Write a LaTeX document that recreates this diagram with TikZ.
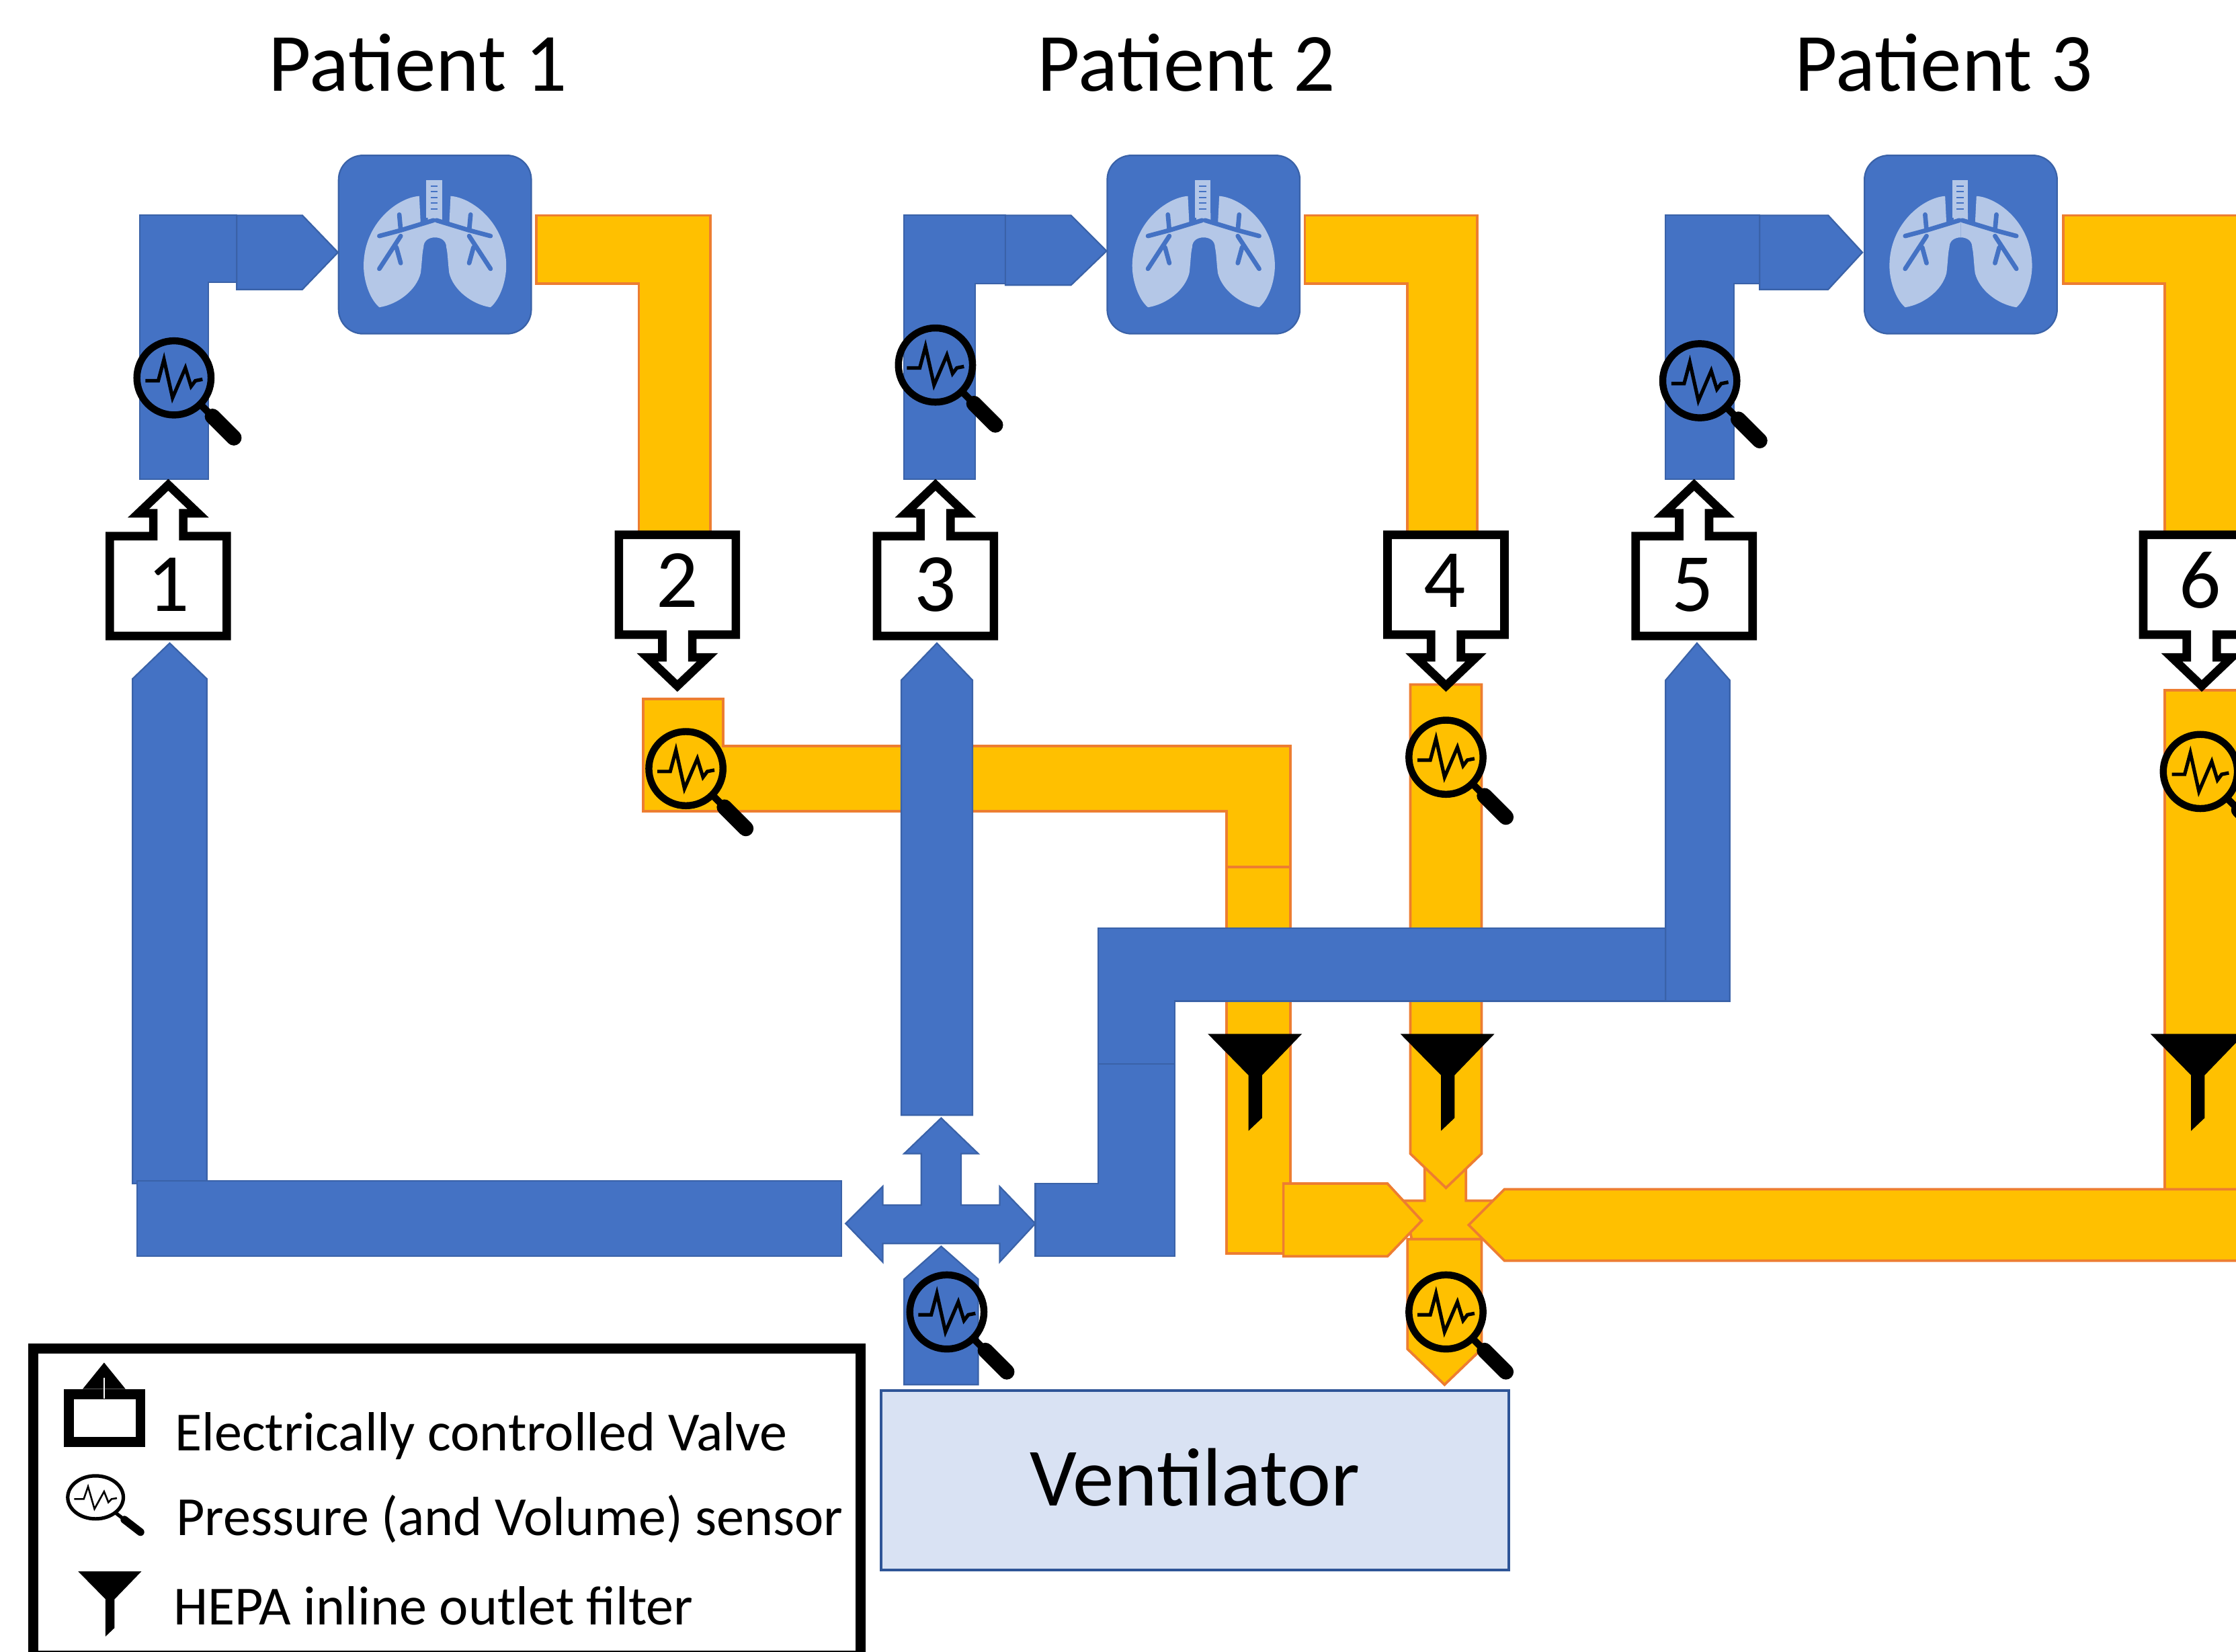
\documentclass[tikz,border=0pt]{standalone}
\usepackage{fontspec}
\setmainfont{Carlito}
\usepackage{xcolor}
\definecolor{pipeblue}{HTML}{4472C4}
\definecolor{pipeblueline}{HTML}{3A62A8}
\definecolor{pipeorange}{HTML}{FFC000}
\definecolor{pipeorangeline}{HTML}{ED7D31}
\definecolor{lunglight}{HTML}{B4C7E7}
\definecolor{ventfill}{HTML}{D9E2F3}
\definecolor{ventline}{HTML}{2F5597}

\begin{document}
\begin{tikzpicture}[x=0.01cm,y=-0.01cm]
\tikzstyle{bluepipe} =[fill=pipeblue,draw=pipeblueline,line width=0.3pt]
\tikzstyle{orangepipe} =[fill=pipeorange,draw=pipeorangeline,line width=0.5pt]
\tikzstyle{title} =[font=\fontsize{16.5}{19}\selectfont]
\tikzstyle{legendtext} =[font=\fontsize{11}{13}\selectfont,anchor=west,inner sep=0pt]
\tikzstyle{lungbox} =[rounded corners=0.17cm,fill=pipeblue,draw=pipeblueline,line width=0.3pt,minimum width=1.35cm,minimum height=1.25cm,inner sep=0pt]
\tikzset{pics/valve/.style={code={
  \draw[fill=white,line width=1.7pt] (-41,35) -- (41,35) -- (41,-35) -- (10.5,-35) -- (10.5,-51) -- (21,-51) -- (0,-71) -- (-21,-51) -- (-10.5,-51) -- (-10.5,-35) -- (-41,-35) -- cycle;
}}}
\tikzset{pics/sensor/.style={code={
  \draw[line width=#1] (0,0) circle[radius=26];
  \draw[line width=#1] (18,18) -- (27,27);
  \draw[line width=2.2*#1,line cap=round] (27,27) -- (42,42);
  \draw[line width=0.5*#1] (-20,2) -- (-11,2) -- (-7,-13) -- (-1,14) -- (8,-7) -- (12,6) -- (15,2) -- (20,1);
}}}
\tikzset{pics/filter/.style={code={
  \fill (-33,0) -- (33,0) -- (5,29) -- (5,59) -- (-4.5,68) -- (-4.5,29) -- cycle;
}}}
\tikzset{pics/lungs/.style={code={
  \foreach \s in {1,-1}{
    \fill[lunglight,xscale=\s] (-11,-34) .. controls (-26,-33) and (-50,-15) .. (-50,15) .. controls (-50,25) and (-46,38) .. (-39,44) .. controls (-26,42) and (-13,32) .. (-10,20) .. controls (-9,12) and (-9,6) .. (-8,2) .. controls (-8,-3) and (-4,-5) .. (0,-5) -- (0,-22) -- (-5,-22) -- (-5,-15) -- (-10,-14) -- cycle;
    \draw[pipeblue,xscale=\s,line width=0.9pt,line cap=round,line join=round] (-1,-17) -- (-24,-10) -- (-39,-6) (-24,-10) -- (-25,-21) (-24,-6) -- (-39,17) (-27,2) -- (-24,13);
  }
  \fill[lunglight] (-6,-45) rectangle (5,-19);
  \foreach \ry in {-41,-37,-33,-29,-25}{
    \draw[pipeblue,line width=0.3pt] (-3,\ry) -- (2,\ry);
  }
}}}

\clip (0,0) rectangle (1568,1158);

\node[title] (patient1) at (293,44) {Patient 1};
\node[title] (patient2) at (832,44) {Patient 2};
\node[title] (patient3) at (1363,44) {Patient 3};

\node[lungbox] (lung1) at (305,171.5) {};
\node[lungbox] (lung2) at (844,171.5) {};
\node[lungbox] (lung3) at (1375,171.5) {};
\pic at (lung1) {lungs};
\pic at (lung2) {lungs};
\pic at (lung3) {lungs};

\draw[bluepipe] (98,336) -- (98,151) -- (166,151) -- (166,198) -- (146,198) -- (146,336) -- cycle;
\draw[bluepipe] (166,151) -- (212,151) -- (237,177) -- (212,203) -- (166,203) -- cycle;
\draw[bluepipe] (634,336) -- (634,151) -- (705,151) -- (705,199) -- (684,199) -- (684,336) -- cycle;
\draw[bluepipe] (705,151) -- (751,151) -- (776,176) -- (751,200) -- (705,200) -- cycle;
\draw[bluepipe] (1168,336) -- (1168,151) -- (1234,151) -- (1234,199) -- (1216,199) -- (1216,336) -- cycle;
\draw[bluepipe] (1234,151) -- (1282,151) -- (1306,177) -- (1282,203) -- (1234,203) -- cycle;

\draw[orangepipe] (376,151) -- (498,151) -- (498,380) -- (448,380) -- (448,199) -- (376,199) -- cycle;
\draw[orangepipe] (915,151) -- (1036,151) -- (1036,380) -- (987,380) -- (987,199) -- (915,199) -- cycle;
\draw[orangepipe] (1447,151) -- (1580,151) -- (1580,380) -- (1518,380) -- (1518,199) -- (1447,199) -- cycle;

\draw[orangepipe] (860,608) rectangle (905,879);
\draw[orangepipe] (451,490) -- (507,490) -- (507,523) -- (905,523) -- (905,608) -- (860,608) -- (860,569) -- (451,569) -- cycle;
\draw[orangepipe] (984,842) -- (999,842) -- (999,816) -- (1028,816) -- (1028,842) -- (1046,842) -- (1040,869) -- (990,869) -- cycle;
\draw[orangepipe] (989,480) -- (1039,480) -- (1039,809) -- (1014,833) -- (989,809) -- cycle;
\draw[orangepipe] (987,869) -- (1039,869) -- (1039,946) -- (1013,971) -- (987,946) -- cycle;
\draw[orangepipe] (900,830) -- (973,830) -- (997,856) -- (973,881) -- (900,881) -- cycle;
\draw[orangepipe] (1518,484) -- (1580,484) -- (1580,834) -- (1518,834) -- cycle;
\draw[orangepipe] (1030,859) -- (1055,834) -- (1580,834) -- (1580,884) -- (1055,884) -- cycle;

\draw[bluepipe] (93,830) -- (93,476) -- (119,451) -- (145,476) -- (145,830) -- cycle;
\draw[bluepipe] (96,828) rectangle (590,881);
\draw[bluepipe] (632,782) -- (632,477) -- (657,451) -- (682,477) -- (682,782) -- cycle;
\draw[bluepipe] (660,784) -- (686,809) -- (674,809) -- (674,845) -- (701,845) -- (701,832) -- (726,858) -- (701,885) -- (701,872) -- (619,872) -- (619,885) -- (593,858) -- (619,832) -- (619,845) -- (646,845) -- (646,809) -- (634,809) -- cycle;
\draw[bluepipe] (634,971) -- (634,897) -- (660,874) -- (686,897) -- (686,971) -- cycle;
\draw[bluepipe] (726,830) -- (770,830) -- (770,746) -- (824,746) -- (824,881) -- (726,881) -- cycle;
\draw[bluepipe] (770,746) -- (770,651) -- (1213,651) -- (1213,702) -- (824,702) -- (824,746) -- cycle;
\draw[bluepipe] (1168,702) -- (1168,477) -- (1190,451) -- (1213,477) -- (1213,702) -- cycle;

\pic at (118,411) {valve};
\pic[yscale=-1] at (475,410) {valve};
\pic at (656,411) {valve};
\pic[yscale=-1] at (1014,410) {valve};
\pic at (1188,411) {valve};
\pic[yscale=-1] at (1544,410) {valve};
\node[title,inner sep=0pt] (num1) at (118,410) {1};
\node[title,inner sep=0pt] (num2) at (475,407) {2};
\node[title,inner sep=0pt] (num3) at (656,410) {3};
\node[title,inner sep=0pt] (num4) at (1013,407) {4};
\node[title,inner sep=0pt] (num5) at (1187,410) {5};
\node[title,inner sep=0pt] (num6) at (1543,407) {6};

\pic at (122,265) {sensor=1.4pt};
\pic at (481,539) {sensor=1.4pt};
\pic at (656,256) {sensor=1.4pt};
\pic at (1014,531) {sensor=1.4pt};
\pic at (1192,267) {sensor=1.4pt};
\pic at (1543,541) {sensor=1.4pt};
\pic at (664,920) {sensor=1.4pt};
\pic at (1014,920) {sensor=1.4pt};

\pic at (880,725) {filter};
\pic at (1015,725) {filter};
\pic at (1541,725) {filter};

\node[fill=ventfill,draw=ventline,line width=0.5pt,minimum width=4.4cm,minimum height=1.26cm,inner sep=0pt,title] (ventilator) at (838,1038) {\raisebox{0.04cm}{Ventilator}};

\draw[fill=white,line width=2pt] (23.5,945.5) rectangle (603.5,1161);
\draw[line width=2pt] (48.5,977.5) rectangle (98.5,1011);
\fill (73,955.5) -- (88,974) -- (58,974) -- cycle;
\draw[white,line width=0.3pt] (73,966) -- (73,981);
\pic[xscale=0.75,yscale=0.58] at (67,1050) {sensor=0.7pt};
\pic[xscale=0.67,yscale=0.67] at (77,1102) {filter};

\node[legendtext] (legvalve) at (122,1007) {Electrically controlled Valve};
\node[legendtext] (legsensor) at (123,1065) {Pressure (and Volume) sensor};
\node[legendtext] (legfilter) at (121,1126) {HEPA inline outlet filter};
\end{tikzpicture}
\end{document}
